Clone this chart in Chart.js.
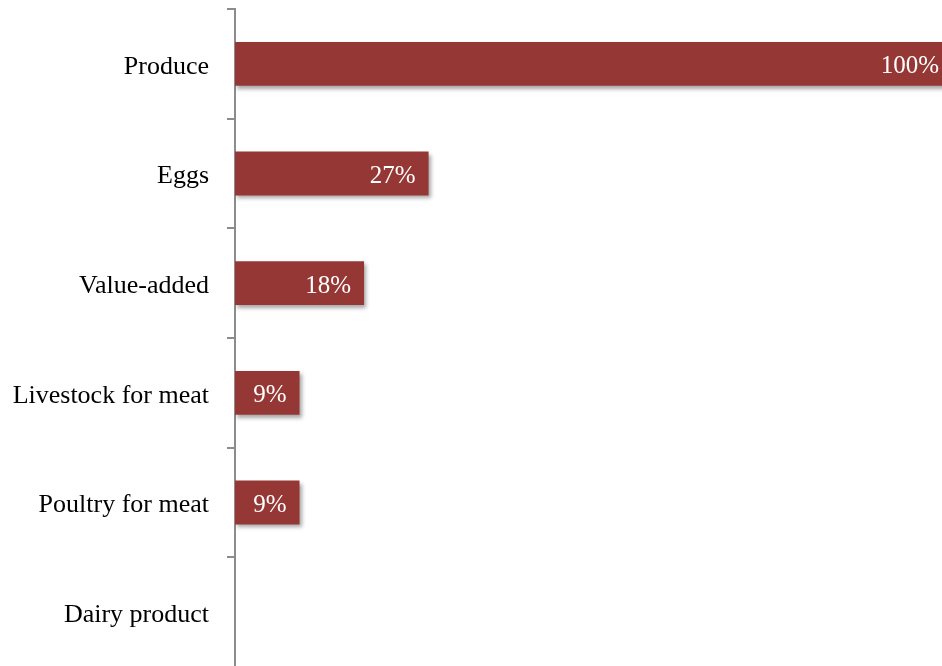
<!DOCTYPE html>
<html>
<head>
<meta charset="utf-8">
<script src="https://cdn.jsdelivr.net/npm/chart.js@4.4.1/dist/chart.umd.min.js"></script>
<style>
  html, body { margin: 0; padding: 0; background: #ffffff; overflow: hidden; }
  #wrap { position: relative; width: 952px; height: 667px; }
</style>
</head>
<body>
<div id="wrap"><canvas id="chart"></canvas></div>
<script>
// Share of farms selling each product type
const categories = ['Produce', 'Eggs', 'Value-added', 'Livestock for meat', 'Poultry for meat', 'Dairy product'];
const shares = [100, 27, 18, 9, 9, 0];
const shareLabels = ['100%', '27%', '18%', '9%', '9%', ''];

const barColor = '#953735';
const axisColor = '#8c8c8c';

// Soft drop shadow beneath the bars
const barShadow = {
  id: 'barShadow',
  beforeDatasetsDraw(chart) {
    const ctx = chart.ctx;
    ctx.save();
    ctx.shadowColor = 'rgba(0,0,0,0.35)';
    ctx.shadowBlur = 4;
    ctx.shadowOffsetX = 2;
    ctx.shadowOffsetY = 3;
  },
  afterDatasetsDraw(chart) {
    chart.ctx.restore();
  }
};

// Value text inside the end of each bar
const barValueLabels = {
  id: 'barValueLabels',
  afterDatasetsDraw(chart) {
    const ctx = chart.ctx;
    const meta = chart.getDatasetMeta(0);
    ctx.save();
    ctx.font = '25px "Liberation Serif", "Times New Roman", serif';
    ctx.fillStyle = '#ffffff';
    ctx.textAlign = 'right';
    ctx.textBaseline = 'middle';
    meta.data.forEach((bar, i) => {
      const text = shareLabels[i];
      if (!text) return;
      ctx.fillText(text, bar.x - 13, bar.y + 3);
    });
    ctx.restore();
  }
};

new Chart(document.getElementById('chart'), {
  type: 'bar',
  data: {
    labels: categories,
    datasets: [{
      data: shares,
      backgroundColor: barColor,
      borderWidth: 0,
      categoryPercentage: 1,
      barPercentage: 0.4
    }]
  },
  options: {
    indexAxis: 'y',
    responsive: true,
    maintainAspectRatio: false,
    animation: false,
    layout: { padding: { top: 9, right: 0, bottom: 0, left: 0 } },
    plugins: {
      legend: { display: false },
      tooltip: { enabled: false }
    },
    scales: {
      x: {
        display: false,
        min: 0,
        max: 100
      },
      y: {
        z: 1,
        afterFit(scale) {
          scale.width = 235;
          scale.paddingTop = 0;
          scale.paddingBottom = 0;
        },
        grid: {
          display: true,
          drawOnChartArea: false,
          drawTicks: true,
          tickLength: 8,
          color: axisColor,
          lineWidth: 2,
          offset: true
        },
        border: { display: true, color: axisColor, width: 2 },
        ticks: {
          color: '#000000',
          padding: 18,
          labelOffset: 3,
          font: { family: '"Liberation Serif", "Times New Roman", serif', size: 26 }
        }
      }
    }
  },
  plugins: [barShadow, barValueLabels]
});
</script>
</body>
</html>
